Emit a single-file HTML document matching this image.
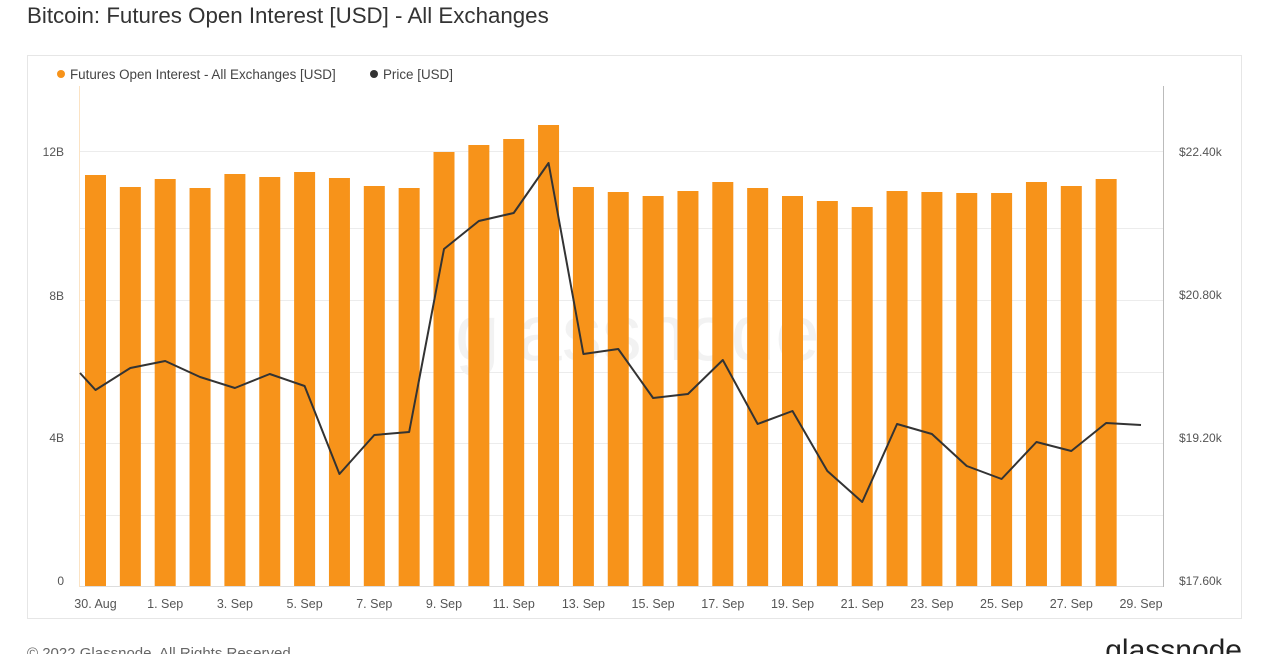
<!DOCTYPE html>
<html><head><meta charset="utf-8"><style>
body{margin:0;background:#fff;font-family:"Liberation Sans",sans-serif;}
</style></head><body>
<svg width="1269" height="654" xmlns="http://www.w3.org/2000/svg" font-family="Liberation Sans, sans-serif">
<text x="27" y="23" font-size="22.3" fill="#333">Bitcoin: Futures Open Interest [USD] - All Exchanges</text>
<rect x="27.5" y="55.5" width="1214" height="563" fill="#fff" stroke="#e6e6e6"/>
<circle cx="61" cy="74" r="4" fill="#f7931a"/>
<text x="70" y="79" font-size="13.4" fill="#444">Futures Open Interest - All Exchanges [USD]</text>
<circle cx="374" cy="74" r="4" fill="#333"/>
<text x="383" y="79" font-size="13.4" fill="#444">Price [USD]</text>
<g stroke="#ececec" stroke-width="1">
<line x1="80" x2="1163" y1="151.5" y2="151.5"/><line x1="80" x2="1163" y1="228.5" y2="228.5"/>
<line x1="80" x2="1163" y1="300.5" y2="300.5"/><line x1="80" x2="1163" y1="372.5" y2="372.5"/>
<line x1="80" x2="1163" y1="443.5" y2="443.5"/><line x1="80" x2="1163" y1="515.5" y2="515.5"/>
</g>
<line x1="79.5" x2="79.5" y1="86" y2="587" stroke="#fbe3c4"/>
<line x1="1163.5" x2="1163.5" y1="86" y2="587" stroke="#bbb"/>
<line x1="80" x2="1163" y1="586.5" y2="586.5" stroke="#ddd"/>
<text x="455" y="360" font-size="80" fill="#f2f2f2">glassnode</text>
<g fill="#f7931a" id="bars"></g>
<polyline id="price" fill="none" stroke="#333" stroke-width="2" stroke-linejoin="round"/>
<g font-size="12" fill="#555" text-anchor="end">
<text x="64" y="156">12B</text><text x="64" y="300">8B</text><text x="64" y="442">4B</text><text x="64" y="585">0</text>
</g>
<g font-size="12" fill="#555">
<text x="1179" y="156">$22.40k</text><text x="1179" y="299">$20.80k</text><text x="1179" y="442">$19.20k</text><text x="1179" y="585">$17.60k</text>
</g>
<g font-size="12.5" fill="#555" text-anchor="middle" id="xl"></g>
<text x="27" y="658" font-size="15" fill="#666">© 2022 Glassnode. All Rights Reserved.</text>
<text x="1242" y="660" font-size="30" fill="#222" text-anchor="end">glassnode</text>
</svg>
<script>
var tops=[175,187,179,188,174,177,172,178,186,188,152,145,139,125,187,192,196,191,182,188,196,201,207,191,192,193,193,182,186,179];
var g=document.getElementById('bars'),s='';
tops.forEach(function(t,i){var c=95.5+i*34.85;s+='<rect x="'+(c-10.5)+'" y="'+t+'" width="21" height="'+(586-t)+'"/>';});
g.innerHTML=s;
var py=[390,368,361,377,388,374,386,474,435,432,249,221,213,163,354,349,398,394,360,424,411,471,502,424,434,466,479,442,451,423,425];
var pts='80,373';py.forEach(function(y,i){pts+=' '+(95.5+i*34.85)+','+y;});
document.getElementById('price').setAttribute('points',pts);
var lb=['30. Aug','1. Sep','3. Sep','5. Sep','7. Sep','9. Sep','11. Sep','13. Sep','15. Sep','17. Sep','19. Sep','21. Sep','23. Sep','25. Sep','27. Sep','29. Sep'];
var x='';lb.forEach(function(l,i){x+='<text x="'+(95.5+i*2*34.85)+'" y="608">'+l+'</text>';});
document.getElementById('xl').innerHTML=x;
</script>
</body></html>
